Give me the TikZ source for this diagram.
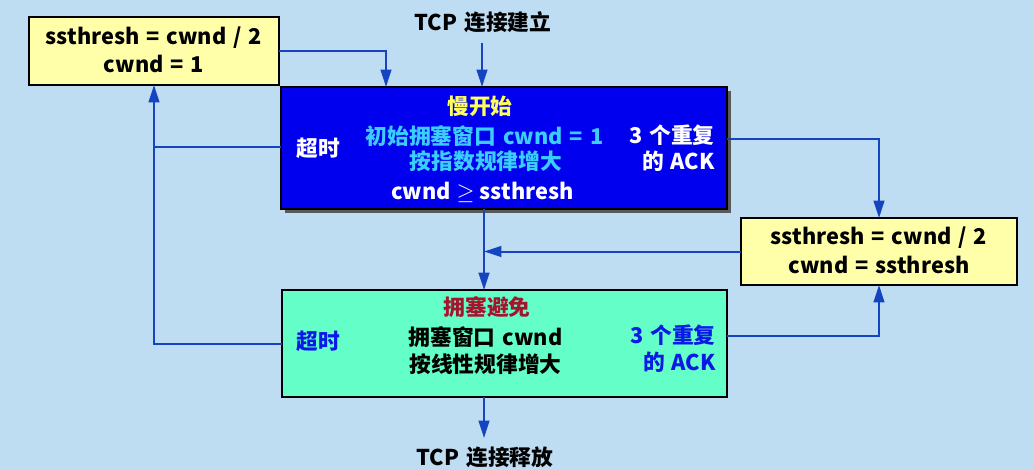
\documentclass[tikz,border=0pt]{standalone}
\usepackage{fontspec}
\setmainfont{Noto Sans CJK SC}[WordSpace=1.4]
\usetikzlibrary{arrows.meta,fit}
\definecolor{bg}{RGB}{190,221,242}
\definecolor{ln}{RGB}{20,68,192}
\definecolor{boxblue}{RGB}{0,0,238}
\definecolor{boxyel}{RGB}{255,255,170}
\definecolor{boxgrn}{RGB}{100,255,200}
\definecolor{tyel}{RGB}{255,255,90}
\definecolor{tcyan}{RGB}{60,205,255}
\definecolor{tred}{RGB}{165,20,45}
\definecolor{tblue}{RGB}{10,25,230}
\begin{document}
\begin{tikzpicture}[x=0.75pt,y=-0.75pt,
  box/.style={draw=black,line width=1.5pt,inner sep=0pt,outer sep=0pt},
  lbl/.style={font=\bfseries\fontsize{16.3pt}{19pt}\selectfont,inner sep=0pt},
  conn/.style={draw=ln,line width=1.5pt,-{Triangle[length=13pt,width=8pt]}},
  wire/.style={draw=ln,line width=1.5pt}]
\fill[bg] (0,0) rectangle (1034,470);
\useasboundingbox (0,0) rectangle (1034,470);

% boxes
\node[box,fill=boxyel,fit={(29,17) (279,85)}] (tl) {};
\fill[black!65] (285,91) rectangle (731,213);
\node[box,fill=boxblue,fit={(281,87) (727,209)}] (blue) {};
\node[box,fill=boxyel,fit={(741,218) (1017,285)}] (rb) {};
\node[box,fill=boxgrn,fit={(282,290) (727,397)}] (green) {};

% texts
\node[lbl] (tl1) at (154,38) {ssthresh = cwnd / 2};
\node[lbl] (tl2) at (154,64) {cwnd = 1};
\node[lbl] (tcpopen) at (483,22) {TCP 连接建立};
\node[lbl,text=tyel] (b1) at (480,106) {慢开始};
\node[lbl,text=tcyan] (b2) at (484.5,136) {初始拥塞窗口 cwnd = 1};
\node[lbl,text=tcyan] (b3) at (486,161) {按指数规律增大};
\node[lbl,text=white] (b4) at (482.5,192) {cwnd\hspace{0.25em}$\geq$\hspace{0.25em}ssthresh};
\node[lbl,text=white] (b5) at (318,148) {超时};
\node[lbl,text=white,anchor=east] (b6) at (715,135) {3 个重复};
\node[lbl,text=white,anchor=east] (b7) at (715,161) {的 ACK};
\node[lbl] (r1) at (879,238) {ssthresh = cwnd / 2};
\node[lbl] (r2) at (879,265) {cwnd = ssthresh};
\node[lbl,text=tred] (g1) at (487,307) {拥塞避免};
\node[lbl] (g2) at (485.5,337) {拥塞窗口 cwnd};
\node[lbl] (g3) at (485.5,364) {按线性规律增大};
\node[lbl,text=tblue] (g4) at (318,341) {超时};
\node[lbl,text=tblue,anchor=east] (g5) at (716,335) {3 个重复};
\node[lbl,text=tblue,anchor=east] (g6) at (716,362) {的 ACK};
\node[lbl] (tcpclose) at (485,457) {TCP 连接释放};

% connector anchors
\coordinate (opentop) at (482,43);
\coordinate (bluein1) at (386,87);
\coordinate (blueout) at (484,209);
\coordinate (greenin) at (484,290);
\coordinate (blueack) at (727,139);
\coordinate (bluetmo) at (281,147);
\coordinate (greenack) at (727,336);
\coordinate (greentmo) at (282,344);
\coordinate (greenout) at (484,397);
\coordinate (closetop) at (484,438);

% connectors
\draw[conn] (opentop) -- (opentop |- blue.north);
\draw[conn] (tl.east) -| (bluein1);
\draw[conn] (blueout) -- (greenin);
\draw[conn] (blueack) -| (rb.north);
\draw[conn] (rb.west) -- (rb.west -| blueout);
\draw[conn] (greenack) -| (rb.south);
\draw[conn] (greenout) -- (closetop);
\draw[conn] (greentmo) -| (tl.south);
\draw[wire] (bluetmo) -- (bluetmo -| tl.south);
\end{tikzpicture}
\end{document}
